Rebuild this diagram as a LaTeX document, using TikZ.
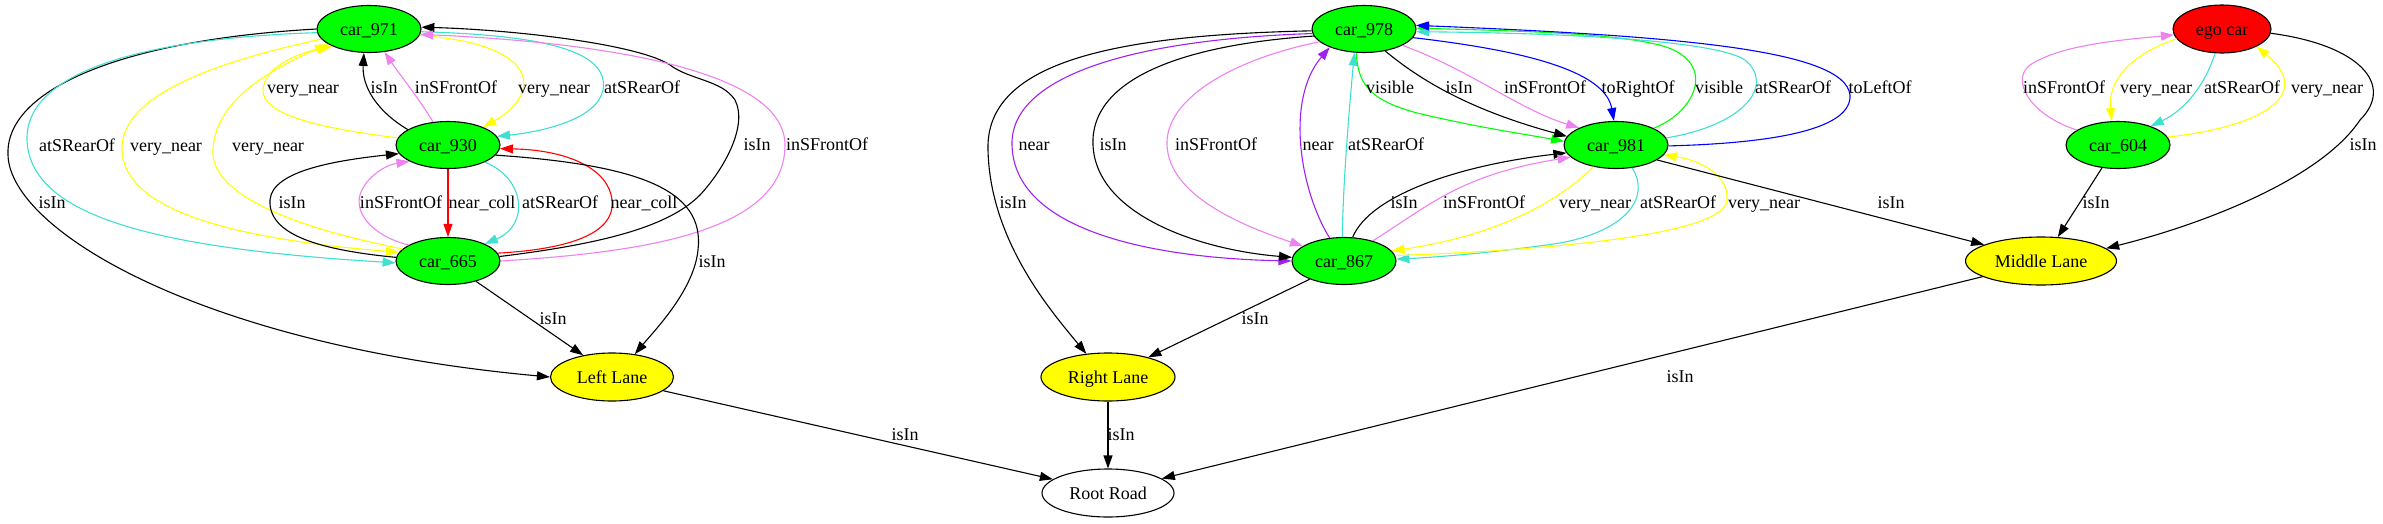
\documentclass[tikz,border=0pt]{standalone}
\usepackage{fontspec}
\setmainfont{Liberation Serif}
\usetikzlibrary{shapes.geometric,arrows.meta}
\definecolor{gvturq}{RGB}{64,224,208}
\definecolor{gvviolet}{RGB}{238,130,238}
\definecolor{gvpurple}{RGB}{160,32,240}
\definecolor{gvgreen}{RGB}{0,255,0}
\definecolor{gvyellow}{RGB}{255,255,0}
\definecolor{gvblue}{RGB}{0,0,255}
\definecolor{gvred}{RGB}{255,0,0}
\begin{document}
\begin{tikzpicture}[x=1pt,y=-1pt,
  nd/.style={ellipse,draw=black,line width=1.1pt,inner sep=0pt,text height=12pt,text depth=0pt,font=\fontsize{18}{20}\selectfont},
  car/.style={nd,fill=gvgreen,minimum width=104pt,minimum height=47pt},
  lane/.style={nd,fill=gvyellow,minimum height=48pt},
  lbl/.style={font=\fontsize{18}{20}\selectfont,inner sep=0pt,text height=12pt,text depth=0pt},
  ed/.style={line width=1.1pt,-{Triangle[length=13pt,width=9pt]}},
]
\useasboundingbox[fill=white] (0,0) rectangle (2383,523);
% nodes
\node[car] (a971) at (369,29) {car\_971};
\node[car] (a930) at (448,145) {car\_930};
\node[car] (a665) at (448,261) {car\_665};
\node[lane,minimum width=123pt] (LL) at (612,377) {Left Lane};
\node[nd,fill=white,minimum width=132pt,minimum height=48pt] (RR) at (1108,493) {Root Road};
\node[lane,minimum width=134pt] (RL) at (1108,377) {Right Lane};
\node[car] (a978) at (1364,29) {car\_978};
\node[car] (a867) at (1344,261) {car\_867};
\node[car] (a981) at (1616,145) {car\_981};
\node[car] (a604) at (2118,145) {car\_604};
\node[nd,fill=gvred,minimum width=98pt,minimum height=48pt] (ego) at (2222,29) {ego car};
\node[lane,minimum width=151pt] (ML) at (2041,261) {Middle Lane};
% left cluster
\draw[ed] (a971.180) .. controls (120,40) and (5,90) .. (8,155) .. controls (10,230) and (200,345) .. (LL.180);
\draw[ed,gvturq] (a971.184) .. controls (150,38) and (25,70) .. (27,140) .. controls (30,215) and (150,248) .. (a665.182);
\draw[ed,gvyellow] (a971.192) .. controls (200,65) and (120,100) .. (122,150) .. controls (124,215) and (250,240) .. (a665.170);
\draw[ed,gvyellow] (a665.165) .. controls (280,225) and (210,190) .. (213,150) .. controls (215,100) and (270,70) .. (a971.200);
\draw[ed,gvyellow] (a930.172) .. controls (320,128) and (262,115) .. (263,90) .. controls (264,70) and (290,55) .. (a971.205);
\draw[ed] (a930.159) .. controls (375,110) and (362,85) .. (a971.258);
\draw[ed,gvviolet] (a930.123) .. controls (420,100) and (400,75) .. (a971.304);
\draw[ed,gvyellow] (a971.353) .. controls (545,45) and (540,95) .. (a930.27);
\draw[ed,gvturq] (a971.357) .. controls (540,35) and (610,50) .. (603,90) .. controls (597,120) and (540,132) .. (a930.10);
\draw[ed] (a665.176) .. controls (320,250) and (268,235) .. (270,200) .. controls (272,170) and (340,160) .. (a930.190);
\draw[ed,gvviolet] (a665.158) .. controls (370,235) and (355,212) .. (360,195) .. controls (365,178) and (385,165) .. (a930.203);
\draw[ed,gvred] (a930.south) -- (a665.north);
\draw[ed,gvturq] (a930.335) .. controls (525,178) and (530,225) .. (a665.25);
\draw[ed,gvred] (a665.9) .. controls (590,248) and (615,225) .. (612,200) .. controls (609,170) and (570,150) .. (a930.356);
\draw[ed] (a665.5) .. controls (610,243) and (670,225) .. (700,195) .. controls (725,168) and (748,125) .. (735,100) .. controls (722,80) and (690,80) .. (670,65) .. controls (640,45) and (520,30) .. (a971.2);
\draw[ed,gvviolet] (a665.0) .. controls (650,252) and (785,230) .. (785,145) .. controls (785,60) and (550,40) .. (a971.354);
\draw[ed] (a930.348) .. controls (640,165) and (705,190) .. (698,250) .. controls (694,290) and (655,330) .. (LL.45);
\draw[ed] (a665.324) -- (LL.143);
\draw[ed] (LL.345) -- (RR.166);
% middle cluster
\draw[ed] (a978.182) .. controls (1120,35) and (985,60) .. (988,150) .. controls (990,240) and (1050,310) .. (RL.133);
\draw[ed,gvpurple] (a978.185) .. controls (1120,40) and (1010,80) .. (1012,145) .. controls (1014,230) and (1150,258) .. (a867.180);
\draw[ed] (a978.188) .. controls (1180,45) and (1090,80) .. (1093,145) .. controls (1096,215) and (1200,250) .. (a867.176);
\draw[ed,gvviolet] (a978.196) .. controls (1230,60) and (1165,100) .. (1167,145) .. controls (1169,195) and (1240,225) .. (a867.160);
\draw[ed,gvpurple] (a867.122) .. controls (1300,190) and (1285,100) .. (a978.208);
\draw[ed,gvturq] (a867.94) .. controls (1343,180) and (1350,100) .. (a978.248);
\draw[ed,gvgreen] (a978.252) .. controls (1358,85) and (1370,100) .. (1417,113) .. controls (1480,128) and (1530,135) .. (a981.176);
\draw[ed] (a978.314) .. controls (1420,80) and (1470,110) .. (a981.170);
\draw[ed,gvviolet] (a978.337) .. controls (1470,70) and (1520,110) .. (a981.155);
\draw[ed,gvblue] (a978.350) .. controls (1520,50) and (1605,70) .. (a981.95);
\draw[ed,gvgreen] (a981.24) .. controls (1700,110) and (1720,55) .. (1650,43) .. controls (1600,32) and (1480,30) .. (a978.1);
\draw[ed,gvturq] (a981.8) .. controls (1745,125) and (1775,85) .. (1745,60) .. controls (1715,40) and (1560,33) .. (a978.357);
\draw[ed,gvblue] (a981.359) .. controls (1780,143) and (1852,128) .. (1850,95) .. controls (1845,50) and (1680,36) .. (a978.4);
\draw[ed] (a867.70) .. controls (1370,195) and (1460,165) .. (a981.189);
\draw[ed,gvviolet] (a867.35) .. controls (1430,205) and (1460,175) .. (a981.195);
\draw[ed,gvyellow] (a981.224) .. controls (1560,200) and (1500,235) .. (a867.12);
\draw[ed,gvturq] (a981.305) .. controls (1650,195) and (1630,230) .. (1560,243) .. controls (1500,252) and (1440,257) .. (a867.2);
\draw[ed,gvyellow] (a867.6) .. controls (1550,250) and (1725,235) .. (1727,200) .. controls (1729,175) and (1700,160) .. (a981.348);
\draw[ed] (a981.340) -- (ML.164);
\draw[ed] (a867.208) -- (RL.26);
\draw[ed] (RL.south) -- (RR.north);
\draw[ed] (ML.195) -- (RR.15);
% ego cluster
\draw[ed,gvviolet] (a604.160) .. controls (2030,115) and (2010,80) .. (2030,65) .. controls (2060,45) and (2120,40) .. (ego.187);
\draw[ed,gvyellow] (ego.192) .. controls (2130,55) and (2108,80) .. (a604.105);
\draw[ed,gvturq] (ego.254) .. controls (2205,85) and (2185,110) .. (a604.30);
\draw[ed,gvyellow] (a604.9) .. controls (2275,125) and (2310,90) .. (ego.333);
\draw[ed] (ego.355) .. controls (2360,45) and (2395,85) .. (2360,120) .. controls (2320,180) and (2200,225) .. (ML.11);
\draw[ed] (a604.235) -- (ML.55);
% labels
\node[lbl] (t1) at (52,202) {isIn};
\node[lbl] (t2) at (77,145) {atSRearOf};
\node[lbl] (t3) at (166,145) {very\_near};
\node[lbl] (t4) at (268,145) {very\_near};
\node[lbl] (t5) at (303,87) {very\_near};
\node[lbl] (t6) at (384,87) {isIn};
\node[lbl] (t7) at (456,87) {inSFrontOf};
\node[lbl] (t8) at (554,87) {very\_near};
\node[lbl] (t9) at (642,87) {atSRearOf};
\node[lbl] (t10) at (292,202) {isIn};
\node[lbl] (t11) at (401,202) {inSFrontOf};
\node[lbl] (t12) at (482,202) {near\_coll};
\node[lbl] (t13) at (560,202) {atSRearOf};
\node[lbl] (t14) at (644,202) {near\_coll};
\node[lbl] (t15) at (757,144) {isIn};
\node[lbl] (t16) at (827,144) {inSFrontOf};
\node[lbl] (t17) at (712,261) {isIn};
\node[lbl] (t18) at (553,318) {isIn};
\node[lbl] (t19) at (905,434) {isIn};
\node[lbl] (t20) at (1013,202) {isIn};
\node[lbl] (t21) at (1034,144) {near};
\node[lbl] (t22) at (1113,144) {isIn};
\node[lbl] (t23) at (1216,144) {inSFrontOf};
\node[lbl] (t24) at (1318,144) {near};
\node[lbl] (t25) at (1386,144) {atSRearOf};
\node[lbl] (t26) at (1390,87) {visible};
\node[lbl] (t27) at (1459,87) {isIn};
\node[lbl] (t28) at (1545,87) {inSFrontOf};
\node[lbl] (t29) at (1638,87) {toRightOf};
\node[lbl] (t30) at (1719,87) {visible};
\node[lbl] (t31) at (1793,87) {atSRearOf};
\node[lbl] (t32) at (1880,87) {toLeftOf};
\node[lbl] (t33) at (1404,202) {isIn};
\node[lbl] (t34) at (1484,202) {inSFrontOf};
\node[lbl] (t35) at (1595,202) {very\_near};
\node[lbl] (t36) at (1678,202) {atSRearOf};
\node[lbl] (t37) at (1764,202) {very\_near};
\node[lbl] (t38) at (1891,202) {isIn};
\node[lbl] (t39) at (1255,318) {isIn};
\node[lbl] (t40) at (1121,434) {isIn};
\node[lbl] (t41) at (1680,376) {isIn};
\node[lbl] (t42) at (2064,87) {inSFrontOf};
\node[lbl] (t43) at (2156,87) {very\_near};
\node[lbl] (t44) at (2242,87) {atSRearOf};
\node[lbl] (t45) at (2327,87) {very\_near};
\node[lbl] (t46) at (2096,202) {isIn};
\node[lbl] (t47) at (2363,144) {isIn};
\end{tikzpicture}
\end{document}
